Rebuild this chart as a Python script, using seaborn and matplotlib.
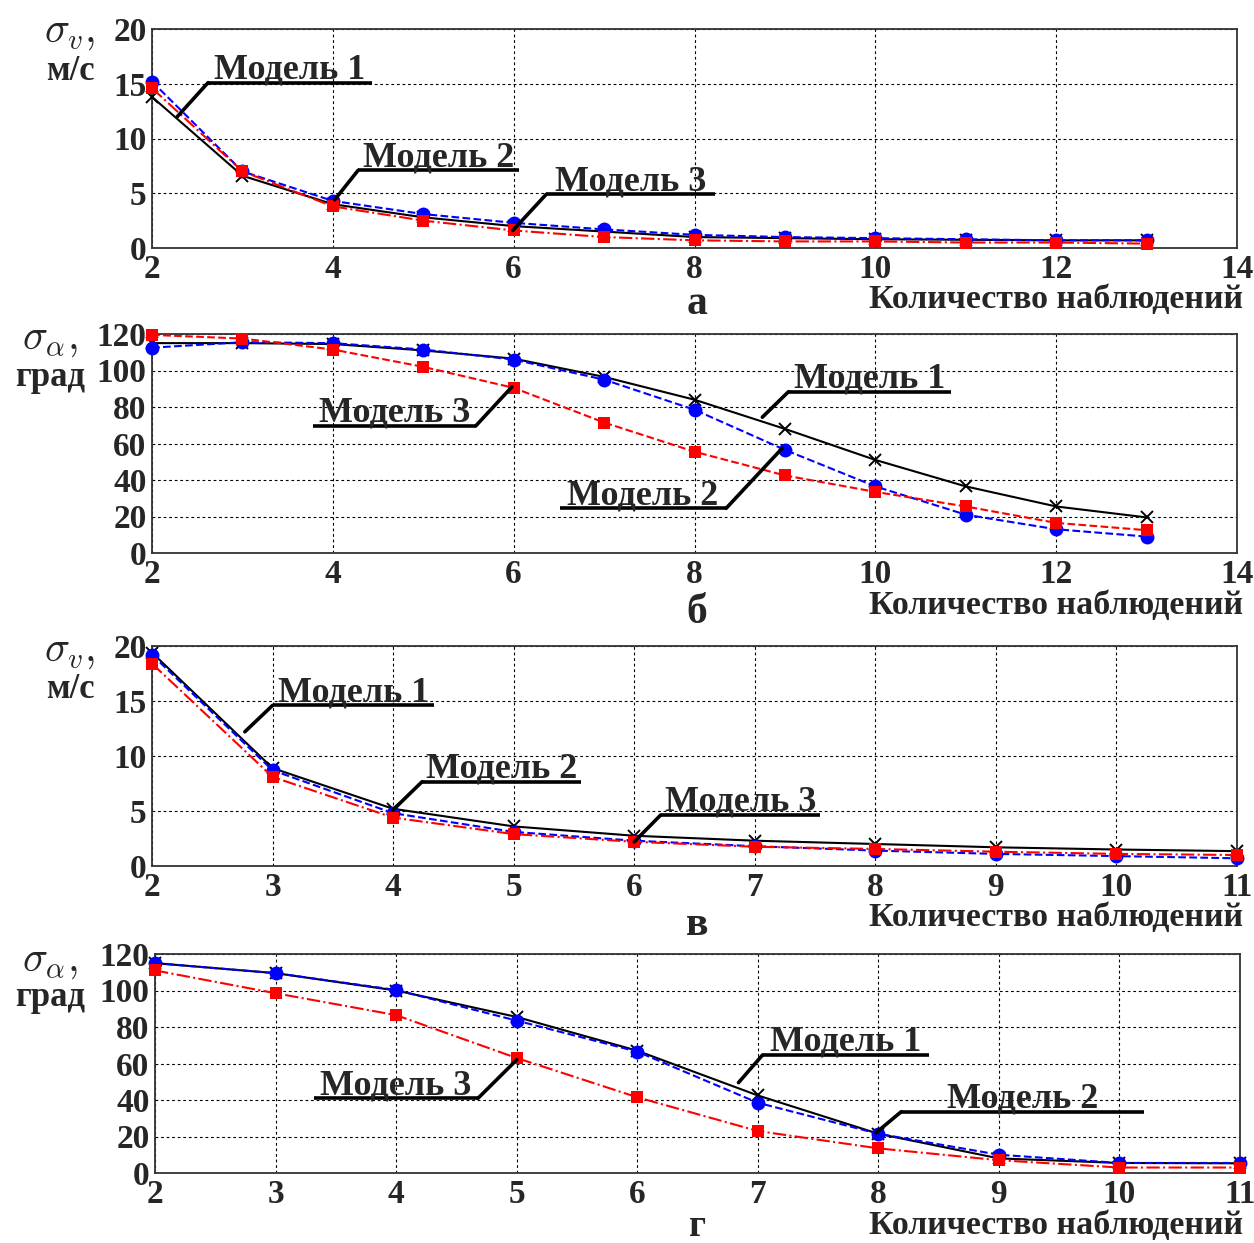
import matplotlib
matplotlib.use("Agg")
import matplotlib.pyplot as plt
import seaborn as sns

# ── Data ─────────────────────────────────────────────────────────────────────

obs_ab = [2, 3, 4, 5, 6, 7, 8, 9, 10, 11, 12, 13]
obs_cd = [2, 3, 4, 5, 6, 7, 8, 9, 10, 11]

# panel а: sigma_v, m/s
a_model1 = [13.8, 6.6, 4.0, 2.8, 2.0, 1.5, 1.0, 0.9, 0.8, 0.75, 0.7, 0.7]
a_model2 = [15.2, 7.0, 4.3, 3.1, 2.3, 1.7, 1.2, 1.0, 0.9, 0.8, 0.7, 0.7]
a_model3 = [14.6, 7.0, 3.8, 2.5, 1.6, 1.0, 0.7, 0.6, 0.6, 0.5, 0.5, 0.4]

# panel б: sigma_alpha, deg
b_model1 = [115, 115, 114.5, 111, 106.5, 96.5, 84, 68, 51, 36.5, 25.5, 19.5]
b_model2 = [112.5, 115.5, 115, 111.5, 106, 95, 78.5, 56.5, 36.5, 21, 13, 9]
b_model3 = [119.5, 117.5, 111.5, 102, 90.5, 71.5, 55.5, 42.5, 33.5, 25.5, 16.5, 12.5]

# panel в: sigma_v, m/s
c_model1 = [19.4, 8.9, 5.2, 3.6, 2.75, 2.3, 2.0, 1.7, 1.5, 1.35]
c_model2 = [19.2, 8.7, 4.8, 3.1, 2.3, 1.8, 1.4, 1.1, 0.9, 0.7]
c_model3 = [18.4, 8.1, 4.4, 2.9, 2.2, 1.75, 1.55, 1.3, 1.1, 1.0]

# panel г: sigma_alpha, deg
d_model1 = [115, 109.5, 100, 85.5, 67, 42.5, 21.5, 8, 5.5, 5.3]
d_model2 = [115, 109.5, 100.3, 83.5, 66.5, 38.5, 21.5, 10, 5.5, 5.5]
d_model3 = [111, 98.5, 86.5, 63, 41.5, 23, 13.5, 7, 3, 3]

model_names = ["Модель 1", "Модель 2", "Модель 3"]
panel_letters = ["а", "б", "в", "г"]
xlabel_text = "Количество наблюдений"

# ── Style ────────────────────────────────────────────────────────────────────

sns.set_style("white")
plt.rcParams["font.family"] = ["Liberation Serif", "DejaVu Serif"]
plt.rcParams["font.weight"] = "bold"
plt.rcParams["mathtext.fontset"] = "cm"

W, H = 1254, 1243
fig = plt.figure(figsize=(W / 100, H / 100), dpi=100)

LINE_STYLES = [
    dict(color="black", linestyle="-", marker="x", markersize=9, markeredgewidth=1.4,
         markeredgecolor="black", linewidth=1.5),
    dict(color="blue", linestyle="--", marker="o", markersize=10, markeredgewidth=0,
         linewidth=1.5),
    dict(color="red", linestyle="-.", marker="s", markersize=9, markeredgewidth=0,
         linewidth=1.5),
]


def px_axes(left, top, right, bottom):
    return fig.add_axes([left / W, 1 - bottom / H, (right - left) / W, (bottom - top) / H])


def draw_panel(ax, x, series, xlim, xticks, ylim, yticks, red_style="-."):
    for i, y in enumerate(series):
        kw = dict(LINE_STYLES[i])
        if i == 2:
            kw["linestyle"] = red_style
        sns.lineplot(x=x, y=y, ax=ax, clip_on=False, zorder=3 + i, **kw)
    ax.set_xlim(*xlim)
    ax.set_ylim(*ylim)
    ax.set_xticks(xticks)
    ax.set_yticks(yticks)
    ax.grid(True, color="black", linestyle=(0, (2.5, 2.5)), linewidth=0.8)
    for s in ax.spines.values():
        s.set_color("#333333")
        s.set_linewidth(1.3)
    ax.tick_params(axis="both", length=0, labelsize=24)
    ax.tick_params(axis="y", pad=4)
    ax.tick_params(axis="x", pad=4)
    for lab in ax.get_xticklabels() + ax.get_yticklabels():
        lab.set_fontweight("bold")
    ax.set_xlabel("")
    ax.set_ylabel("")


def callout(ax, text, x0, x1, y, tx, ty, side="left"):
    # underline below the label plus a leader line to the curve
    ax.plot([x0, x1], [y, y], color="black", lw=2.6, clip_on=False, zorder=10,
            solid_capstyle="butt")
    sx = x0 if side == "left" else x1
    ax.plot([sx, tx], [y, ty], color="black", lw=2.6, clip_on=False, zorder=10)
    ax.annotate(text, xy=((x0 + x1) / 2, y), xytext=(0, 3), textcoords="offset points",
                ha="center", va="baseline", fontsize=26, fontweight="bold", zorder=11,
                annotation_clip=False)


def fig_text(x, y, s, **kw):
    fig.text(x / W, 1 - y / H, s, **kw)


# ── Panel а ──────────────────────────────────────────────────────────────────
ax_a = px_axes(152, 29, 1237, 248)
draw_panel(ax_a, obs_ab, [a_model1, a_model2, a_model3], (2, 14), range(2, 15, 2),
           (0, 20), range(0, 21, 5))
callout(ax_a, model_names[0], 2.62, 4.43, 15.1, 2.28, 12.0)
callout(ax_a, model_names[1], 4.28, 6.06, 7.1, 4.02, 4.4)
callout(ax_a, model_names[2], 6.36, 8.23, 4.9, 5.99, 1.6)

# ── Panel б ──────────────────────────────────────────────────────────────────
ax_b = px_axes(152, 334, 1237, 553)
draw_panel(ax_b, obs_ab, [b_model1, b_model2, b_model3], (2, 14), range(2, 15, 2),
           (0, 120), range(0, 121, 20), red_style="--")
callout(ax_b, model_names[2], 3.78, 5.58, 69.6, 5.98, 91, side="right")
callout(ax_b, model_names[0], 9.04, 10.84, 88.4, 8.75, 74.4)
callout(ax_b, model_names[1], 6.51, 8.35, 24.5, 8.97, 57.4, side="right")

# ── Panel в ──────────────────────────────────────────────────────────────────
ax_c = px_axes(152, 646, 1237, 866)
draw_panel(ax_c, obs_cd, [c_model1, c_model2, c_model3], (2, 11), range(2, 12),
           (0, 20), range(0, 21, 5))
callout(ax_c, model_names[0], 3.0, 4.34, 14.6, 2.77, 12.2)
callout(ax_c, model_names[1], 4.24, 5.56, 7.66, 4.0, 5.1)
callout(ax_c, model_names[2], 6.22, 7.54, 4.64, 6.0, 2.2)

# ── Panel г ──────────────────────────────────────────────────────────────────
ax_d = px_axes(155, 954, 1240, 1173)
draw_panel(ax_d, obs_cd, [d_model1, d_model2, d_model3], (2, 11), range(2, 12),
           (0, 120), range(0, 121, 20))
callout(ax_d, model_names[2], 3.32, 4.68, 41, 5.0, 62, side="right")
callout(ax_d, model_names[0], 7.04, 8.42, 64.7, 6.84, 49.5)
callout(ax_d, model_names[1], 8.19, 10.2, 33.6, 7.98, 22)

# ── Axis titles, x labels, panel letters ────────────────────────────────────
for yc, letter, ly, lsize in [(300, panel_letters[0], 304, 30), (606, panel_letters[1], 613, 30),
                              (917, panel_letters[2], 925, 30), (1226, panel_letters[3], 1227, 27)]:
    fig_text(1243, yc, xlabel_text, ha="right", va="center", fontsize=24.5, fontweight="bold")
    fig_text(697, ly, letter, ha="center", va="center", fontsize=lsize, fontweight="bold")

for ys, yu, sym, unit in [(33, 72, r"$\sigma_v,$", "м/с"), (340, 378, r"$\sigma_\alpha,$", "град"),
                          (652, 690, r"$\sigma_v,$", "м/с"), (962, 998, r"$\sigma_\alpha,$", "град")]:
    xc = 70 if unit == "м/с" else 50
    fig_text(xc, ys, sym, ha="center", va="center", fontsize=30)
    fig_text(xc, yu, unit, ha="center", va="center", fontsize=25, fontweight="bold")

fig.savefig("out.png", dpi=100)
